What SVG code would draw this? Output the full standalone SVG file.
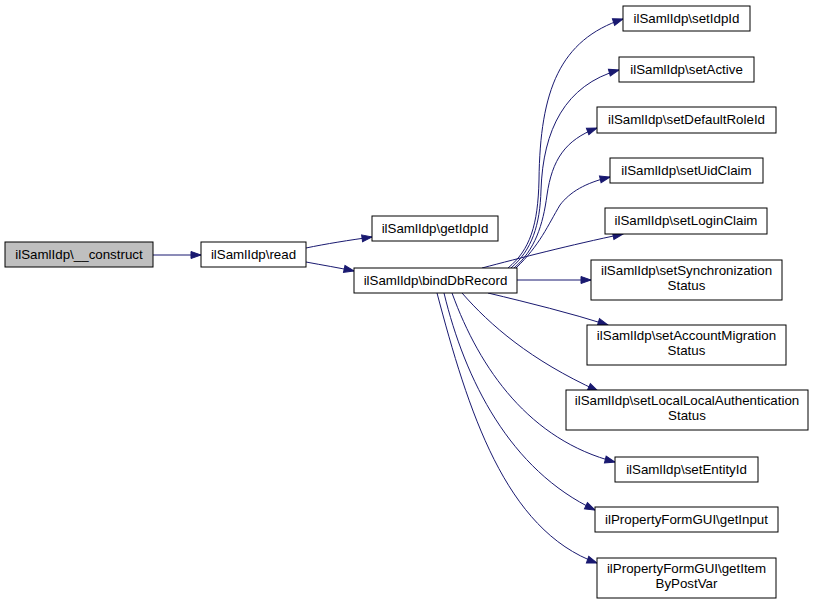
<svg xmlns="http://www.w3.org/2000/svg" width="813" height="605" viewBox="0 0 813 605">
<defs>
<style>
.n rect{fill:#fff;stroke:#000;stroke-width:1}
.n.root rect{fill:#bfbfbf}
text{font-family:"Liberation Sans",Arial,sans-serif;font-size:13.33px;fill:#000;text-anchor:middle}
.e path{fill:none;stroke:#191970;stroke-width:1}
</style>
<marker id="a" markerUnits="userSpaceOnUse" markerWidth="12" markerHeight="9" refX="10" refY="3.5" orient="auto" overflow="visible">
<path d="M0,0 L10,3.5 L0,7 z" fill="#191970" stroke="#191970"/>
</marker>
</defs>
<rect width="813" height="605" fill="#fff"/>
<g id="edges" class="e">
<path marker-end="url(#a)" d="M153,255 L201,255"/>
<path marker-end="url(#a)" d="M306,248 C325,244 350,240 372,237"/>
<path marker-end="url(#a)" d="M306,262 C322,265 340,268 354,271"/>
<path marker-end="url(#a)" d="M508,268 C530,250 538,225 539,180 C540,90 560,40 623,19"/>
<path marker-end="url(#a)" d="M511,268 C532,250 540,225 541,190 C543,130 565,85 619,70"/>
<path marker-end="url(#a)" d="M514,268 C535,250 543,225 547,195 C552,160 565,140 597,128"/>
<path marker-end="url(#a)" d="M516,268 C540,245 548,225 560,205 C570,192 585,183 610,177"/>
<path marker-end="url(#a)" d="M482,268 C520,258 570,245 623,234"/>
<path marker-end="url(#a)" d="M517,280 L591,280"/>
<path marker-end="url(#a)" d="M488,293 C530,303 570,313 608,325"/>
<path marker-end="url(#a)" d="M462,293 C490,325 530,360 598,391"/>
<path marker-end="url(#a)" d="M452,293 C480,370 530,440 615,462"/>
<path marker-end="url(#a)" d="M444,293 C465,380 510,470 595,510"/>
<path marker-end="url(#a)" d="M437,293 C468,410 505,530 597,563"/>
</g>
<g id="construct" class="n root"><rect x="5" y="242" width="148" height="25"/><text x="79" y="259">ilSamlIdp\__construct</text></g>
<g id="read" class="n"><rect x="201" y="242" width="105" height="25"/><text x="253.5" y="259">ilSamlIdp\read</text></g>
<g id="getIdpId" class="n"><rect x="372" y="216" width="126" height="25"/><text x="435" y="233">ilSamlIdp\getIdpId</text></g>
<g id="bindDbRecord" class="n"><rect x="354" y="268" width="163" height="25"/><text x="435.5" y="285">ilSamlIdp\bindDbRecord</text></g>
<g id="setIdpId" class="n"><rect x="623" y="6" width="127" height="25"/><text x="686.5" y="23">ilSamlIdp\setIdpId</text></g>
<g id="setActive" class="n"><rect x="619" y="57" width="135" height="25"/><text x="686.5" y="74">ilSamlIdp\setActive</text></g>
<g id="setDefaultRoleId" class="n"><rect x="597" y="107" width="179" height="26"/><text x="686.5" y="124">ilSamlIdp\setDefaultRoleId</text></g>
<g id="setUidClaim" class="n"><rect x="610" y="158" width="153" height="25"/><text x="686.5" y="175">ilSamlIdp\setUidClaim</text></g>
<g id="setLoginClaim" class="n"><rect x="605" y="208" width="162" height="26"/><text x="686" y="225">ilSamlIdp\setLoginClaim</text></g>
<g id="setSynchronizationStatus" class="n"><rect x="591" y="260" width="191" height="40"/><text x="686.5" y="275">ilSamlIdp\setSynchronization</text><text x="686.5" y="290">Status</text></g>
<g id="setAccountMigrationStatus" class="n"><rect x="587" y="325" width="199" height="40"/><text x="686.5" y="340">ilSamlIdp\setAccountMigration</text><text x="686.5" y="355">Status</text></g>
<g id="setLocalLocalAuthenticationStatus" class="n"><rect x="566" y="390" width="242" height="40"/><text x="687" y="405">ilSamlIdp\setLocalLocalAuthentication</text><text x="687" y="420">Status</text></g>
<g id="setEntityId" class="n"><rect x="615" y="457" width="143" height="25"/><text x="686.5" y="474">ilSamlIdp\setEntityId</text></g>
<g id="getInput" class="n"><rect x="595" y="507" width="183" height="25"/><text x="686.5" y="524">ilPropertyFormGUI\getInput</text></g>
<g id="getItemByPostVar" class="n"><rect x="597" y="558" width="179" height="40"/><text x="686.5" y="573">ilPropertyFormGUI\getItem</text><text x="686.5" y="588">ByPostVar</text></g>
</svg>
